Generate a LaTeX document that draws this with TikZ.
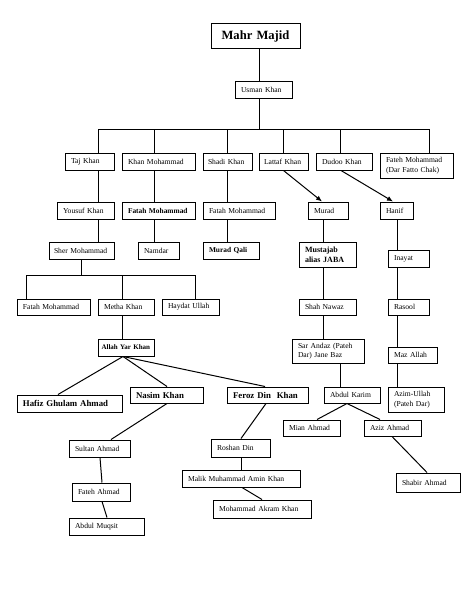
\documentclass[tikz,border=0pt]{standalone}
\usepackage{fontspec}
\setmainfont{Liberation Serif}
\usetikzlibrary{arrows.meta}
\begin{document}
\begin{tikzpicture}[x=1pt, y=-1pt]
        \tikzset{
            personBox/.style={
                draw=black,
                line width=1pt,
                fill=white,
                inner xsep=6pt,
                inner ysep=0pt,
                align=left,
                minimum height=17pt,
                font=\fontsize{7.6}{9.5}\selectfont
            },
            boldName/.style={font=\fontsize{7.4}{9.5}\selectfont\bfseries},
            bigName/.style={font=\fontsize{8.8}{10.5}\selectfont\bfseries},
            link/.style={draw=black, line width=1pt},
            linkArrow/.style={link, -{Latex[length=6pt, width=5pt]}}
        }

        \useasboundingbox (0,0) rectangle (474,594);

        \node[personBox, align=center, text width=77pt, minimum height=25pt,
              font=\fontsize{12.6}{14}\selectfont\bfseries] (mahrMajid) at (255.5,36.5) {Mahr Majid};
        \node[personBox, text width=45pt] (usmanKhan) at (263.5,89.5) {Usman Khan};

        \node[personBox, text width=37pt] (tajKhan) at (89.5,161.5) {Taj Khan};
        \node[personBox, text width=61pt] (khanMohammad) at (158.5,161.5) {Khan Mohammad};
        \node[personBox, inner xsep=5pt, text width=39pt] (shadiKhan) at (227.5,161.5) {Shadi Khan};
        \node[personBox, inner xsep=5pt, text width=39pt] (lattafKhan) at (283.5,161.5) {Lattaf Khan};
        \node[personBox, text width=44pt] (dudooKhan) at (344,161.5) {Dudoo Khan};
        \node[personBox, text width=61pt, minimum height=25pt] (fatehDarChak) at (416.5,165.5) {Fateh Mohammad\\(Dar Fatto Chak)};

        \node[personBox, text width=45pt] (yousufKhan) at (85.5,210.5) {Yousuf Khan};
        \node[personBox, boldName, text width=61pt] (fatahKhanM) at (158.5,210.5) {Fatah Mohammad};
        \node[personBox, text width=60pt] (fatahShadi) at (239,210.5) {Fatah Mohammad};
        \node[personBox, text width=28pt] (murad) at (328,210.5) {Murad};
        \node[personBox, text width=21pt] (hanif) at (396.5,210.5) {Hanif};

        \node[personBox, inner xsep=5pt, text width=55pt] (sherMohammad) at (81.5,250.5) {Sher Mohammad};
        \node[personBox, text width=29pt] (namdar) at (158.5,250.5) {Namdar};
        \node[personBox, boldName, text width=44pt] (muradQali) at (231,250.5) {Murad Qali};
        \node[personBox, boldName, font=\fontsize{8}{10}\selectfont\bfseries, text width=45pt, minimum height=25pt] (mustajab) at (327.5,254.5) {Mustajab\\alias JABA};
        \node[personBox, text width=29pt] (inayat) at (408.5,258.5) {Inayat};

        \node[personBox, text width=61pt, minimum height=16pt] (fatahSher) at (53.5,307) {Fatah Mohammad};
        \node[personBox, text width=44pt, minimum height=16pt] (methaKhan) at (126,307) {Metha Khan};
        \node[personBox, text width=45pt, minimum height=16pt] (haydatUllah) at (190.5,307) {Haydat Ullah};
        \node[personBox, text width=45pt, minimum height=16pt] (shahNawaz) at (327.5,307) {Shah Nawaz};
        \node[personBox, text width=29pt, minimum height=16pt] (rasool) at (408.5,307) {Rasool};

        \node[personBox, boldName, font=\fontsize{7}{9}\selectfont\bfseries, inner xsep=3.5pt, text width=49pt] (allahYarKhan) at (126,347.5) {Allah Yar Khan};
        \node[personBox, text width=60pt, minimum height=24pt] (sarAndaz) at (328,351) {Sar Andaz (Pateh\\Dar) Jane Baz};
        \node[personBox, text width=37pt, minimum height=16pt] (mazAllah) at (412.5,355) {Maz Allah};

        \node[personBox, bigName, text width=93pt] (hafizGhulam) at (69.5,403.5) {Hafiz Ghulam Ahmad};
        \node[personBox, bigName, text width=61pt, minimum height=16pt] (nasimKhan) at (166.5,395) {Nasim Khan};
        \node[personBox, bigName, text width=69pt, minimum height=16pt] (ferozDinKhan) at (267.5,395) {Feroz Din~ Khan};
        \node[personBox, text width=44pt, minimum height=16pt] (abdulKarim) at (352,395) {Abdul Karim};
        \node[personBox, text width=44pt, minimum height=25pt] (azimUllah) at (416,399.5) {Azim-Ullah\\(Pateh Dar)};

        \node[personBox, text width=45pt, minimum height=16pt] (mianAhmad) at (311.5,428) {Mian Ahmad};
        \node[personBox, text width=45pt, minimum height=16pt] (azizAhmad) at (392.5,428) {Aziz Ahmad};
        \node[personBox, text width=49pt] (sultanAhmad) at (99.5,448.5) {Sultan Ahmad};
        \node[personBox, text width=47pt, minimum height=18pt] (roshanDin) at (240.5,448) {Roshan Din};
        \node[personBox, text width=106pt] (malikAmin) at (241,478.5) {Malik Muhammad Amin Khan};
        \node[personBox, text width=52pt, minimum height=19pt] (shabirAhmad) at (428,482.5) {Shabir Ahmad};
        \node[personBox, text width=46pt, minimum height=18pt] (fatehAhmad) at (101,492) {Fateh Ahmad};
        \node[personBox, text width=86pt, minimum height=18pt] (akramKhan) at (262,509) {Mohammad Akram Khan};
        \node[personBox, text width=63pt] (abdulMuqsit) at (106.5,526.5) {Abdul Muqsit};

        \draw[link] ([xshift=3.5pt]mahrMajid.south) -- ([xshift=-4.5pt]usmanKhan.north);

        \coordinate (usmanBar) at (259,129);
        \draw[link] ([xshift=-4.5pt]usmanKhan.south) -- (usmanBar);
        \draw[link] (usmanBar) -| ([xshift=8.5pt]tajKhan.north);
        \draw[link] (usmanBar) -| ([xshift=-4.5pt]khanMohammad.north);
        \draw[link] (usmanBar) -| ([xshift=-0.5pt]shadiKhan.north);
        \draw[link] (usmanBar) -| (lattafKhan.north);
        \draw[link] (usmanBar) -| ([xshift=-4pt]dudooKhan.north);
        \draw[link] (usmanBar) -| ([xshift=12.5pt]fatehDarChak.north);

        \draw[link] ([xshift=8.5pt]tajKhan.south) -- ([xshift=12.5pt]yousufKhan.north);
        \draw[link] ([xshift=12.5pt]yousufKhan.south) -- ([xshift=16.5pt]sherMohammad.north);
        \draw[link] ([xshift=-4.5pt]khanMohammad.south) -- ([xshift=-4.5pt]fatahKhanM.north);
        \draw[link] ([xshift=-4.5pt]fatahKhanM.south) -- ([xshift=-4.5pt]namdar.north);
        \draw[link] ([xshift=-0.5pt]shadiKhan.south) -- ([xshift=-12pt]fatahShadi.north);
        \draw[link] ([xshift=-12pt]fatahShadi.south) -- ([xshift=-4pt]muradQali.north);
        \draw[linkArrow] (lattafKhan.south) -- ([xshift=-6pt]murad.north);
        \draw[linkArrow] ([xshift=-3pt]dudooKhan.south) -- ([xshift=-3.5pt]hanif.north);

        \draw[link] ([xshift=-5pt]murad.south) -- ([xshift=-4.5pt]mustajab.north);
        \draw[link] ([xshift=-4.5pt]mustajab.south) -- ([xshift=-4.5pt]shahNawaz.north);
        \draw[link] ([xshift=-4.5pt]shahNawaz.south) -- ([xshift=-5pt]sarAndaz.north);
        \draw[link] ([xshift=12pt]sarAndaz.south) -- ([xshift=-12pt]abdulKarim.north);
        \draw[link] ([xshift=0.5pt]hanif.south) -- ([xshift=-11.5pt]inayat.north);
        \draw[link] ([xshift=-11.5pt]inayat.south) -- ([xshift=-11.5pt]rasool.north);
        \draw[link] ([xshift=-11.5pt]rasool.south) -- ([xshift=-15.5pt]mazAllah.north);
        \draw[link] ([xshift=-15.5pt]mazAllah.south) -- ([xshift=-19pt]azimUllah.north);

        \coordinate (sherBar) at (81.5,275);
        \draw[link] (sherMohammad.south) -- (sherBar);
        \draw[link] (sherBar) -| ([xshift=-27.5pt]fatahSher.north);
        \draw[link] (sherBar) -| ([xshift=-4pt]methaKhan.north);
        \draw[link] (sherBar) -| ([xshift=4.5pt]haydatUllah.north);
        \draw[link] ([xshift=-4pt]methaKhan.south) -- ([xshift=-4pt]allahYarKhan.north);

        \draw[link] ([xshift=-3pt]allahYarKhan.south) -- ([xshift=-11.5pt]hafizGhulam.north);
        \draw[link] ([xshift=-3pt]allahYarKhan.south) -- ([xshift=0.5pt]nasimKhan.north);
        \draw[link] ([xshift=-3pt]allahYarKhan.south) -- ([xshift=-2.5pt]ferozDinKhan.north);

        \draw[link] ([xshift=0.5pt]nasimKhan.south) -- ([xshift=11.5pt]sultanAhmad.north);
        \draw[link] ([xshift=0.5pt]sultanAhmad.south) -- ([xshift=1pt]fatehAhmad.north);
        \draw[link] ([xshift=1pt]fatehAhmad.south) -- ([xshift=0.5pt]abdulMuqsit.north);
        \draw[link] ([xshift=-1.5pt]ferozDinKhan.south) -- ([xshift=0.5pt]roshanDin.north);
        \draw[link] ([xshift=0.5pt]roshanDin.south) -- (malikAmin.north);
        \draw[link] ([xshift=1pt]malikAmin.south) -- (akramKhan.north);
        \draw[link] ([xshift=-5pt]abdulKarim.south) -- ([xshift=5.5pt]mianAhmad.north);
        \draw[link] ([xshift=-5pt]abdulKarim.south) -- ([xshift=-12.5pt]azizAhmad.north);
        \draw[link] ([xshift=-0.5pt]azizAhmad.south) -- ([xshift=-1pt]shabirAhmad.north);
    \end{tikzpicture}
\end{document}
